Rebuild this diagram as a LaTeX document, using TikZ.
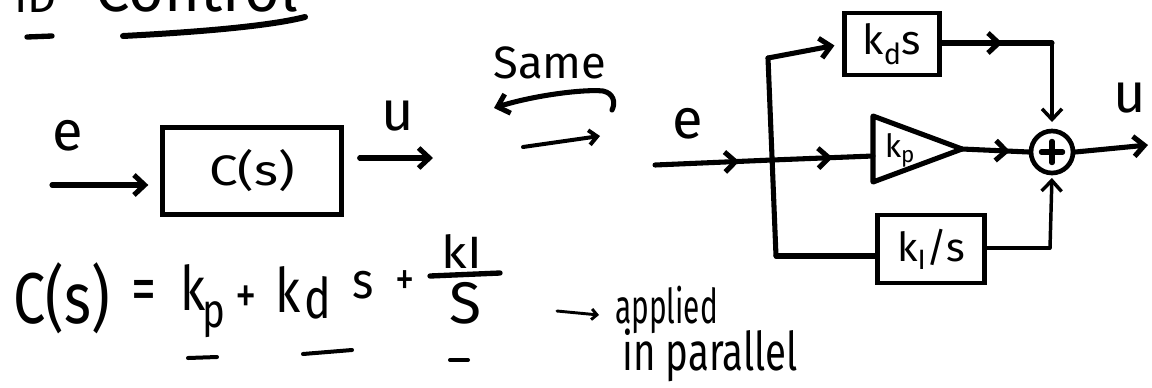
\documentclass[tikz,border=0pt]{standalone}
\usepackage{fontspec}
\setmainfont{Fira Sans}
\usetikzlibrary{arrows.meta,decorations.markings}
\newcommand{\fs}[1]{\fontsize{#1}{#1}\selectfont}
\newcommand{\cond}[2][0.8]{\scalebox{#1}[1]{#2}}
\begin{document}
\begin{tikzpicture}[x=0.75pt,y=-0.75pt,
  wire/.style={line width=3.8pt, line cap=round, line join=round},
  thinwire/.style={line width=2.6pt, line cap=round, line join=round},
  tip/.style={-{Straight Barb[length=8pt,width=15pt]}},
  smalltip/.style={-{Straight Barb[length=6pt,width=11pt]}},
  midarrow/.style={postaction={decorate},
    decoration={markings, mark=at position #1 with {\arrow{Straight Barb[length=8pt,width=15pt]}}}},
  blockbox/.style={draw, line width=3.5pt, inner sep=0pt},
  lbl/.style={inner sep=0pt, font=\fs{42}},
  fterm/.style={inner sep=0pt},
  ulmark/.style={line width=3pt, line cap=round},
]
\useasboundingbox (0,0) rectangle (1152,387);

% ---- clipped title ----
\begin{scope}
  \clip (0,0) rectangle (1152,387);
  \node[inner sep=0pt, anchor=base west, font=\fs{34}] (t1) at (14,12) {ID};
  \node[inner sep=0pt, anchor=base west, font=\fs{46}] (t2) at (95,11) {Control};
\end{scope}
\draw[line width=4pt, line cap=round] (27,37) -- (52,36);
\draw[line width=4.5pt, line cap=round] (123,36) .. controls (200,32) and (270,26) .. (305,17);

% ---- left: single block ----
\node[lbl] (eL) at (68,136) {e};
\node[blockbox, minimum width=134pt, minimum height=65pt, font=\fs{32}] (C) at (252,171) {\cond[1.2]{C(s)}};
\coordinate (inL) at (52,185);
\draw[wire, tip, shorten >=9pt] (inL) -- (C.west |- inL);
\coordinate (outL) at (433,158);
\draw[wire, tip, shorten <=12pt] (C.east |- outL) -- (outL);
\node[lbl] (uL) at (398,116) {u};

% ---- "Same" ----
\node[inner sep=0pt, font=\fs{34}] (same) at (550,63) {Same};
\coordinate (sameA) at (494,108);
\coordinate (sameB) at (612,110);
\draw[wire, {Straight Barb[length=8pt,width=15pt]}-] (sameA) .. controls (535,95) and (585,89) .. (603,91) .. controls (613,93) and (616,102) .. (sameB);
\coordinate (sameC) at (523,147);
\coordinate (sameD) at (600,136);
\draw[line width=3pt, line cap=round, smalltip] (sameC) -- (sameD);

% ---- right: parallel form ----
\node[lbl] (eR) at (688,124) {e};
\coordinate (inR) at (655,165);
\coordinate (busTop) at (768,58);
\coordinate (busMid) at (772,160);
\coordinate (busBot) at (776,256);
\draw[wire, midarrow=0.72] (inR) -- (busMid);
\draw[wire] (busTop) -- (busBot);

% derivative
\node[blockbox, minimum width=71pt, minimum height=46.5pt, font=\fs{31}] (kd) at (892,44) {k\textsubscript{d}s};
\draw[wire, tip, shorten >=6pt] (busTop) -- (kd.west);
\coordinate (kdC) at (1052,43);

% proportional (triangle)
\coordinate (kpA) at (873,116);
\coordinate (kpTip) at (962,149);
\coordinate (kpB) at (873,182);
\coordinate (kpIn) at (873,156);
\draw[wire] (kpA) -- (kpTip) -- (kpB) -- cycle;
\node[inner sep=0pt, font=\fs{24}] (kp) at (900,150) {k\textsubscript{p}};
\draw[wire, midarrow=0.6] (busMid) -- (kpIn);

% sum
\node[circle, draw, line width=3.5pt, minimum size=31.5pt, inner sep=0pt] (sum) at (1052,152) {};
\draw[wire] ([xshift=-8pt]sum.center) -- ([xshift=8pt]sum.center);
\draw[wire] ([yshift=-8pt]sum.center) -- ([yshift=8pt]sum.center);
\draw[wire, midarrow=0.72] (kpTip) -- (sum.west);
\draw[wire, midarrow=0.55] (kd.east |- kdC) -- (kdC);
\draw[thinwire, tip, shorten >=5pt] (kdC) -- (sum.north);

% integral
\node[blockbox, minimum width=80pt, minimum height=51pt, font=\fs{30}] (ki) at (931,249) {k\textsubscript{I}/s};
\draw[wire] (busBot) -- (ki.west |- busBot);
\coordinate (kiC) at (1050,248);
\draw[thinwire] (ki.east |- kiC) -- (kiC);
\draw[thinwire, tip, shorten >=2pt] (kiC) -- (sum.south);

% output
\coordinate (outR) at (1148,145);
\draw[wire, tip] (sum.east) -- (outR);
\node[lbl] (uR) at (1130,98) {u};

% ---- formula ----
\node[fterm, anchor=base west, font=\fs{54}] (fC) at (13,323) {\cond{C(s)}};
\node[fterm, font=\fs{50}] (feq) at (144,296) {\cond[0.75]{=}};
\node[fterm, anchor=base west, font=\fs{46}] (fkp) at (180,310)
  {\cond{k}\kern-2pt\raisebox{-13pt}{\fs{36}\cond{p}}};
\node[fterm, font=\fs{40}] (fp1) at (246,300) {\cond{+}};
\node[fterm, anchor=base west, font=\fs{46}] (fkd) at (275,312)
  {\cond{k}\kern3pt\raisebox{-4.5pt}{\fs{42}\cond{d}}};
\node[fterm, anchor=base west, font=\fs{38}] (fs) at (352,298) {\cond[0.9]{s}};
\node[fterm, font=\fs{36}] (fp2) at (405,283) {\cond{+}};
\node[fterm, font=\fs{34}] (fkI) at (462,251) {\cond[1.1]{kI}};
\node[fterm, font=\fs{44}] (fS) at (465,303) {S};
\draw[line width=4pt, line cap=round] (430,276) -- (500,273);
\draw[ulmark] (188,358) -- (217,357);
\draw[ulmark] (303,354) -- (352,350);
\draw[ulmark] (450,360) -- (468,360);

% ---- note ----
\node[inner sep=0pt, font=\fs{36}, anchor=base west] (applied) at (615,323) {\cond[0.62]{applied}};
\node[inner sep=0pt, font=\fs{40}, anchor=base west] (par) at (622,370) {\cond[0.72]{in parallel}};
\coordinate (apA) at (557,311);
\draw[line width=2.2pt, line cap=round, -{Straight Barb[length=4pt,width=8pt]}] (apA) -- ([xshift=-12pt,yshift=6pt]applied.base west);
\end{tikzpicture}
\end{document}
